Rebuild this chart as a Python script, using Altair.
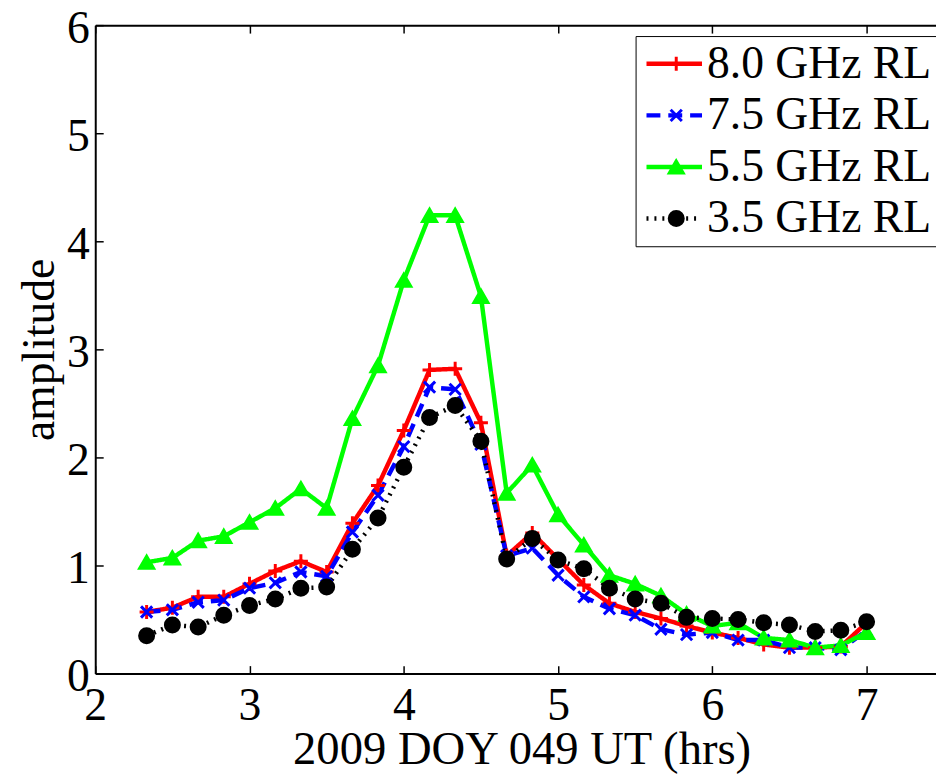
import altair as alt
import pandas as pd

hours = [2.333, 2.5, 2.667, 2.833, 3.0, 3.167, 3.333, 3.5, 3.667, 3.833,
         4.0, 4.167, 4.333, 4.5, 4.667, 4.833, 5.0, 5.167, 5.333, 5.5,
         5.667, 5.833, 6.0, 6.167, 6.333, 6.5, 6.667, 6.833, 7.0]

amp_80 = [0.57, 0.61, 0.71, 0.71, 0.83, 0.95, 1.04, 0.94, 1.39, 1.74,
          2.25, 2.81, 2.82, 2.32, 1.09, 1.30, 1.06, 0.82, 0.65, 0.57,
          0.51, 0.44, 0.38, 0.33, 0.27, 0.24, 0.24, 0.25, 0.47]
amp_75 = [0.57, 0.59, 0.66, 0.68, 0.79, 0.84, 0.94, 0.90, 1.31, 1.65,
          2.10, 2.65, 2.63, 2.12, 1.09, 1.16, 0.91, 0.71, 0.60, 0.54,
          0.41, 0.36, 0.38, 0.31, 0.31, 0.24, 0.24, 0.22, 0.40]
amp_55 = [1.03, 1.07, 1.23, 1.27, 1.40, 1.53, 1.71, 1.53, 2.36, 2.85,
          3.64, 4.24, 4.24, 3.49, 1.67, 1.93, 1.47, 1.19, 0.91, 0.83,
          0.72, 0.55, 0.44, 0.47, 0.33, 0.31, 0.24, 0.26, 0.38]
amp_35 = [0.35, 0.45, 0.43, 0.54, 0.63, 0.69, 0.79, 0.80, 1.15, 1.44,
          1.91, 2.37, 2.48, 2.15, 1.06, 1.25, 1.05, 0.97, 0.79, 0.69,
          0.65, 0.52, 0.51, 0.50, 0.47, 0.45, 0.39, 0.40, 0.48]

series_names = ["8.0 GHz RL", "7.5 GHz RL", "5.5 GHz RL", "3.5 GHz RL"]
marker_keys = ["m80", "m75", "m55", "m35"]
series_values = [amp_80, amp_75, amp_55, amp_35]
colors = ["#ff0000", "#0000ff", "#00ff00", "#000000"]
dashes = [[1, 0], [14, 8], [1, 0], [2, 6]]
line_widths = [4.5, 4.5, 4.5, 3]
marker_shapes = ["M-1,0L1,0M0,-1L0,1", "M-0.8,-0.8L0.8,0.8M-0.8,0.8L0.8,-0.8",
                 "triangle-up", "circle"]
marker_sizes = [200, 200, 300, 100]
x_ticks = [2, 3, 4, 5, 6, 7]
y_ticks = [0, 1, 2, 3, 4, 5, 6]

rows = []
for name, key, vals in zip(series_names, marker_keys, series_values):
    for h, v in zip(hours, vals):
        rows.append({"hour": h, "amp": v, "series": name, "marker": key})
df = pd.DataFrame(rows)

FONT = "Liberation Serif"
FS = 46
LFS = 46
xscale = alt.Scale(domain=[2, 7.45], nice=False, zero=False)
yscale = alt.Scale(domain=[0, 6], nice=False)

legend_a = alt.Legend(
    title=None, orient="none", legendX=545, legendY=11, padding=5,
    strokeColor="black", fillColor="white",
    symbolType="M-2,0L2,0", symbolSize=784, symbolOffset=11,
    labelFont=FONT, labelFontSize=LFS, labelColor="black",
    labelOffset=10, rowPadding=6, labelLimit=500, zindex=0,
)
legend_b = alt.Legend(
    title=None, orient="none", legendX=563, legendY=16, padding=0,
    labelFont=FONT, labelFontSize=LFS, labelColor="rgba(0,0,0,0)",
    labelExpr="''",
    labelOffset=6, rowPadding=6, labelLimit=500, symbolStrokeWidth=3,
    zindex=1,
)

base = alt.Chart(df)

lines = base.mark_line().encode(
    x=alt.X("hour:Q", scale=xscale, axis=alt.Axis(
        orient="bottom", values=x_ticks, ticks=False, tickSize=0, domain=True,
        domainColor="black", domainWidth=2, grid=False, labelFlush=False,
        labelFont=FONT, labelFontSize=FS, labelColor="black", labelPadding=10,
        title="2009 DOY 049 UT (hrs)", titleFont=FONT, titleFontSize=47,
        titleFontWeight="normal", titleColor="black", titleX=430, titleY=91,
        titleBaseline="alphabetic")),
    y=alt.Y("amp:Q", scale=yscale, axis=alt.Axis(
        orient="left", values=y_ticks, ticks=False, tickSize=0, domain=True,
        domainColor="black", domainWidth=2, grid=False,
        labelFont=FONT, labelFontSize=FS, labelColor="black", labelPadding=6,
        labelOffset=3,
        title="amplitude", titleFont=FONT, titleFontSize=46,
        titleFontWeight="normal", titleColor="black", titlePadding=3)),
    color=alt.Color("series:N", scale=alt.Scale(domain=series_names, range=colors), legend=legend_a),
    strokeDash=alt.StrokeDash("series:N", scale=alt.Scale(domain=series_names, range=dashes), legend=legend_a),
    strokeWidth=alt.StrokeWidth("series:N", scale=alt.Scale(domain=series_names, range=line_widths), legend=legend_a),
    order="hour:Q",
)

points = base.mark_point(opacity=1, strokeWidth=3).encode(
    x=alt.X("hour:Q", scale=xscale, axis=alt.Axis(
        orient="bottom", offset=-8, values=x_ticks, ticks=True, tickSize=8,
        tickColor="black", tickWidth=1.5, labels=False, domain=False, grid=False, title=None)),
    y=alt.Y("amp:Q", scale=yscale, axis=alt.Axis(
        orient="left", offset=-8, values=y_ticks, ticks=True, tickSize=8,
        tickColor="black", tickWidth=1.5, labels=False, domain=False, grid=False, title=None)),
    fill=alt.Fill("marker:N", scale=alt.Scale(domain=marker_keys, range=colors), legend=legend_b),
    stroke=alt.Stroke("marker:N", scale=alt.Scale(domain=marker_keys, range=colors), legend=legend_b),
    shape=alt.Shape("marker:N", scale=alt.Scale(domain=marker_keys, range=marker_shapes), legend=legend_b),
    size=alt.Size("marker:N", scale=alt.Scale(domain=marker_keys, range=marker_sizes), legend=legend_b),
)

top_border = base.mark_point(opacity=0).encode(
    x=alt.X("hour:Q", scale=xscale, axis=alt.Axis(
        orient="top", values=x_ticks, ticks=False, labels=False, domain=True,
        domainColor="black", domainWidth=2, grid=False, title=None)),
    y=alt.Y("amp:Q", scale=yscale, axis=None),
)

top_ticks = base.mark_point(opacity=0).encode(
    x=alt.X("hour:Q", scale=xscale, axis=alt.Axis(
        orient="top", offset=-8, values=x_ticks, ticks=True, tickSize=8,
        tickColor="black", tickWidth=1.5, labels=False, domain=False, grid=False, title=None)),
    y=alt.Y("amp:Q", scale=yscale, axis=None),
)

chart = alt.layer(lines, points, top_border, top_ticks).resolve_axis(
    x="independent", y="independent"
).properties(
    width=848, height=654,
    autosize=alt.AutoSizeParams(type="none"),
    padding={"left": 88, "top": 14, "right": 0, "bottom": 98},
    background="white",
).configure_view(stroke="transparent")

chart.save("out.html", embed_options={"renderer": "svg", "actions": False})
